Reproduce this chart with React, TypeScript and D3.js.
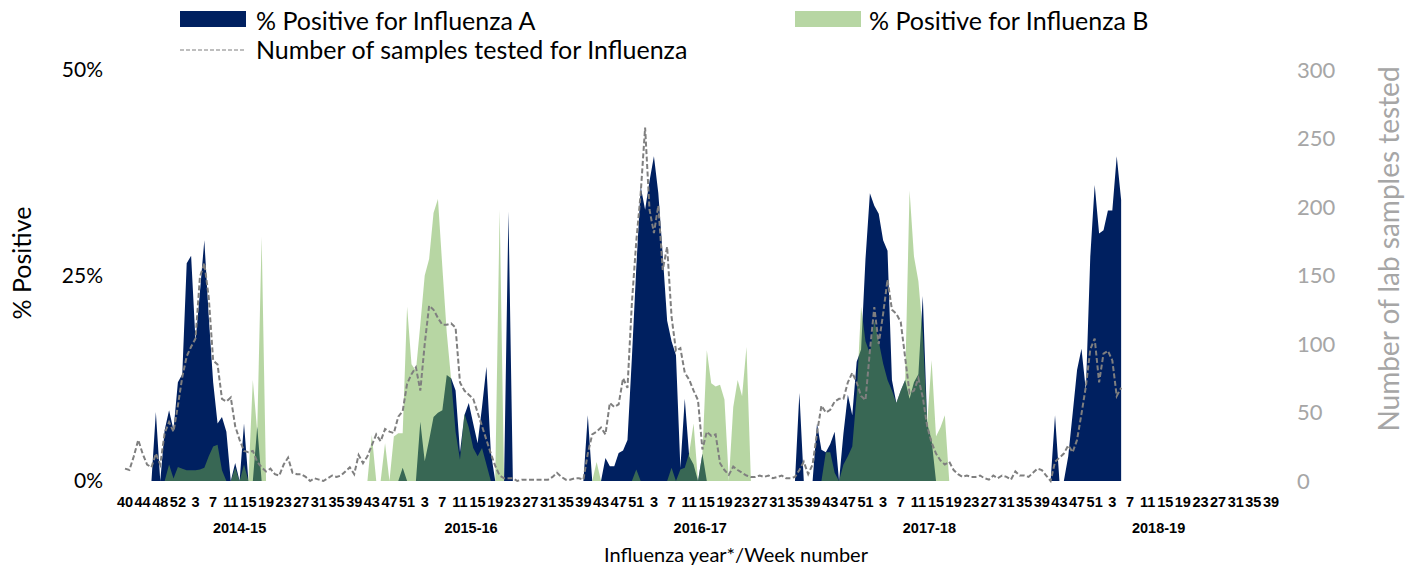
import React from "react";
import * as d3 from "d3";

// ---- categories ----
const SEASONS = ["2014-15", "2015-16", "2016-17", "2017-18", "2018-19"];
const LAST_WEEK_OF_YEAR = [53, 52, 52, 52, 52];

// ---- % positive for Influenza A, per season (weekly from week 40) ----
const A_1415 = [0,0,0,0,0,0,0,8.4,0,6.2,8.6,6.2,12,13,26.5,27.4,17,23,29.3,20,12,7,7.8,6,0,2.2,0,7,0,0,6.6,0,0,0,0,0,0,0,0,0,0,0,0,0,0,0,0,0,0,0,0,0,0];
const A_1516 = [0,0,0,0,0,0,0,0,0,0,1.6,0,0,0,7.2,2.4,5,7.8,8.3,8.6,12.9,12.5,11,3.5,8,9.5,7,4.6,9,13.9,3.5,0,0,0,32.8,0,0,0,0,0,0,0,0,0,0,0,0,0,0,0,0,0];
const A_1617 = [8,0,0,0,2.8,1.8,1.8,3.4,3.7,5,15,26,35.8,33,36.5,39.5,35,27.5,19.5,17,15.3,1.6,10,3,2,0,3.3,0,0,0,0,0,0,0,0,0,0,0,0,0,0,0,0,0,0,0,0,0,10.7,0,0,0];
const A_1718 = [7,3.8,3.5,4.5,6,0,5.8,10.5,8,14.5,16,27,35,33.5,32.5,29.3,28,12.3,9.5,11,12.3,10,12,13,22.5,7,5,0,0,0,0,0,0,0,0,0,0,0,0,0,0,0,0,0,0,0,0,0,0,0,0,0];
const A_1819 = [0,0,8,0,0,3,8.2,13.5,16.1,11,27.3,36,30.1,30.5,32.9,32.9,39.5,34.2];

// ---- % positive for Influenza B ----
const B_1415 = [0,0,0,0,0,0,0,0,0,0,2,0.3,1.7,1.5,1.3,1.3,1.3,1.4,1.6,3,4.2,4.4,1.3,0,0,1.6,0,2,0,12.3,6,29.7,0,0,0,0,0,0,0,0,0,0,0,0,0,0,0,0,0,0,0,0,0];
const B_1516 = [0,0,0,5.6,0,0,4.6,0,5.4,5.8,5.8,21.2,14.2,13.4,19,25,27,32.6,34.3,26,18,12.3,6,2.6,8.2,6.5,4,3,4,2,0,0,33,0,0,0,0,0,0,0,0,0,0,0,0,0,0,0,0,0,0,0];
const B_1617 = [0,0,2.3,0,0,0,0,0,0,0,0,1.4,0,0,0,0,0,0,0,1.6,0,1.4,1.6,3.4,7,0,3.3,15.9,11.9,11.5,11.7,9.9,0,9,12.3,10.3,16.3,0,0,0,0,0,0,0,0,0,0,0,0,0,0,0];
const B_1718 = [0,0,3.5,3.5,1,0,2,3,4.2,10.5,21.2,17,15.5,19.5,17,14.3,12.3,11,9.5,11,12.3,35.3,27.3,24.3,18,7,14.7,5.4,6.5,8,0,0,0,0,0,0,0,0,0,0,0,0,0,0,0,0,0,0,0,0,0,0];
const B_1819 = [0,0,0,0,0,0,0,0,0,0,0,0,0,0,0,0,0,0];

// ---- number of samples tested ----
const S_1415 = [9,8,18,30,20,12,10,20,12,35,43,36,55,76,91,98,104,149,159,134,88,85,60,58,61,40,30,22,21,22,14,10,7,9,5,4,12,17,6,5,5,3,0,2,1,0,2,4,3,4,7,10,5];
const S_1516 = [19,13,18,26,34,29,38,36,35,47,51,71,78,83,66,100,128,125,119,114,114,115,112,72,66,63,60,50,40,30,20,11,4,2,2,2,0,1,1,1,1,1,1,1,3,6,3,1,1,2,2,1];
const S_1617 = [20,34,36,39,34,57,54,56,75,68,130,175,210,258,198,181,201,154,171,120,95,97,79,74,66,59,23,36,33,34,13,8,4.5,10.5,8,6,4,3,3,4,3,4,2,3,4,2,2,3,8,14,5,12];
const S_1718 = [35,55,50,52,58,60,60,72,79,72,62,59,95,127,100,122,147,125,122,116,90,64,66,75,61,40,28,20,15,12,14,8,5,3,4,3,3,4,2,1,4,2,4,3,1,7,4,4,3,6,9,8];
const S_1819 = [4,0,14,17,20,26,21,30,49,69,96,104,72,93,95,88,62,68];

const fluA = [...A_1415, ...A_1516, ...A_1617, ...A_1718, ...A_1819];
const fluB = [...B_1415, ...B_1516, ...B_1617, ...B_1718, ...B_1819];
const samples = [...S_1415, ...S_1516, ...S_1617, ...S_1718, ...S_1819];

const LEFT_TICKS = [0, 25, 50];
const RIGHT_TICKS = [0, 50, 100, 150, 200, 250, 300];

// week category labels
const weeks: number[] = [];
const seasonStart: number[] = [];
const seasonLen: number[] = [];
SEASONS.forEach((s, k) => {
  seasonStart.push(weeks.length);
  for (let w = 40; w <= LAST_WEEK_OF_YEAR[k]; w++) weeks.push(w);
  for (let w = 1; w <= 39; w++) weeks.push(w);
  seasonLen.push(weeks.length - seasonStart[k]);
});

const NAVY = "#002060";
const GREEN = "#70AD47";
const GRAY_LINE = "#7f7f7f";
const GRAY_TEXT = "#a6a6a6";
const SANS = "Lato, 'Open Sans', sans-serif";
const ARIAL = "'Liberation Sans', Arial, sans-serif";

export default function App() {
  const W = 1413, H = 566;
  const x = d3.scaleLinear().domain([0, weeks.length - 1]).range([125, 1271]);
  const yL = d3.scaleLinear().domain([0, 50]).range([481, 70]);
  const yR = d3.scaleLinear().domain([0, 300]).range([481, 70]);

  const area = d3.area<number>().x((_, i) => x(i)).y0(yL(0)).y1((d) => yL(d));
  const line = d3.line<number>().x((_, i) => x(i)).y((d) => yR(d));

  const tickIdx = weeks.map((_, i) => i).filter((i) => i % 4 === 0);

  return (
    <svg width={W} height={H} style={{ position: "absolute", left: 0, top: 0, background: "#fff" }}>
      {/* legend */}
      <rect x={180} y={11} width={66} height={16} fill={NAVY} />
      <text x={256} y={30} fontFamily={SANS} fontSize={25} fill="#000">% Positive for Influenza A</text>
      <rect x={795} y={11} width={66} height={16} fill={GREEN} fillOpacity={0.5} />
      <text x={869} y={30} fontFamily={SANS} fontSize={25} fill="#000">% Positive for Influenza B</text>
      <line x1={180} x2={246} y1={50} y2={50} stroke={GRAY_LINE} strokeWidth={1.2} strokeDasharray="4,2" />
      <text x={256} y={59} fontFamily={SANS} fontSize={25} fill="#000">Number of samples tested for Influenza</text>

      {/* areas */}
      <path d={area(fluA) || ""} fill={NAVY} />
      <path d={area(fluB) || ""} fill={GREEN} fillOpacity={0.5} />
      <path d={line(samples) || ""} fill="none" stroke={GRAY_LINE} strokeWidth={2} strokeDasharray="5,2.5" />

      {/* left axis */}
      {LEFT_TICKS.map((t) => (
        <text key={"l" + t} x={103} y={yL(t)} dy="0.35em" textAnchor="end" fontFamily={SANS} fontSize={21} fill="#000">{t + "%"}</text>
      ))}
      <text transform={`translate(31,263) rotate(-90)`} textAnchor="middle" fontFamily={SANS} fontSize={25} fill="#000">% Positive</text>

      {/* right axis */}
      {RIGHT_TICKS.map((t) => (
        <text key={"r" + t} x={1297} y={yR(t)} dy="0.35em" textAnchor="start" fontFamily={SANS} fontSize={22} fill={GRAY_TEXT}>{t}</text>
      ))}
      <text transform={`translate(1399,249) rotate(-90)`} textAnchor="middle" fontFamily={SANS} fontSize={28} fill={GRAY_TEXT}>Number of lab samples tested</text>

      {/* x axis labels */}
      {tickIdx.map((i) => (
        <text key={"x" + i} x={x(i)} y={507} textAnchor="middle" fontFamily={ARIAL} fontWeight="bold" fontSize={14.5} fill="#000">{weeks[i]}</text>
      ))}
      {SEASONS.map((s, k) => (
        <text key={s} x={x(seasonStart[k] + (seasonLen[k] - 1) / 2)} y={533} textAnchor="middle" fontFamily={ARIAL} fontWeight="bold" fontSize={14.5} fill="#000">{s}</text>
      ))}
      <text x={736} y={562} textAnchor="middle" fontFamily={SANS} fontSize={20} fill="#000">Influenza year*/Week number</text>
    </svg>
  );
}
